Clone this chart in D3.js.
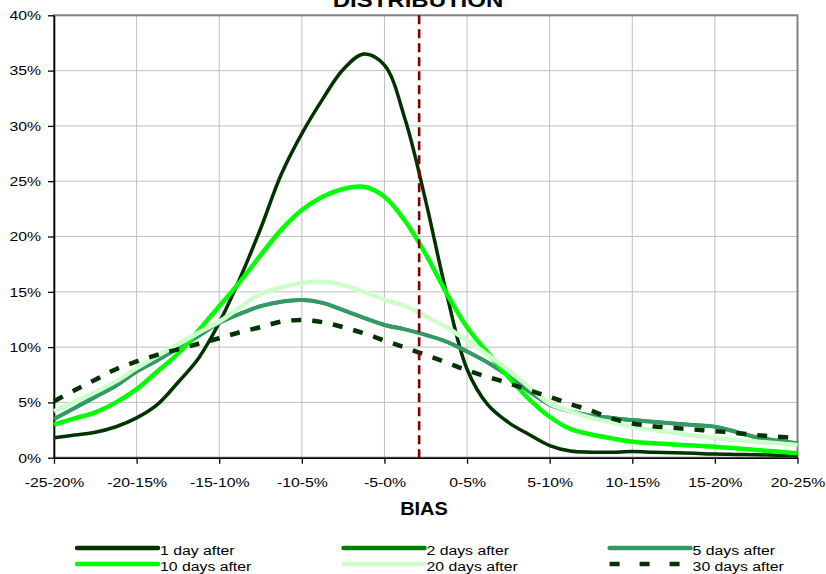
<!DOCTYPE html>
<meta charset="utf-8">
<style>
body { margin: 0; background: #fff; }
text { font-family: "Liberation Sans", Arial, sans-serif; fill: #000; }
.tick text, .legend text { font-size: 13.5px; }
.grid line { stroke: #c0c0c0; stroke-width: 1; }
.series { fill: none; stroke-linejoin: round; }
</style>
<svg width="826" height="574"></svg>
<script src="https://d3js.org/d3.v7.min.js"></script>
<script>

// bins on the x axis and their centres (bias %)
var categories = ["-25-20%", "-20-15%", "-15-10%", "-10-5%", "-5-0%", "0-5%", "5-10%", "10-15%", "15-20%", "20-25%"];
var binCentres = [-22.5, -17.5, -12.5, -7.5, -2.5, 2.5, 7.5, 12.5, 17.5, 22.5];

// points, every 1.25% of bias
var bias = [-22.5, -21.25, -20, -18.75, -17.5, -16.25, -15, -13.75, -12.5, -11.25, -10, -8.75, -7.5, -6.25, -5,
  -3.75, -2.5, -1.25, 0, 1.25, 2.5, 3.75, 5, 6.25, 7.5, 8.75, 10, 11.25, 12.5, 13.75, 15, 16.25, 17.5, 18.75, 20, 21.25, 22.5];

var oneDay = [1.8, 2.05, 2.3, 2.8, 3.6, 4.8, 6.8, 9.0, 12.2, 16.2, 20.7, 25.6, 29.3, 32.4, 35.1, 36.5, 35.5, 30.6, 23.2,
  14.9, 8.0, 4.8, 3.2, 2.1, 1.1, 0.6, 0.5, 0.5, 0.55, 0.5, 0.45, 0.4, 0.33, 0.3, 0.27, 0.23, 0.2];
var twoDays = [3.5, 4.5, 5.5, 6.5, 7.8, 8.8, 9.9, 11.0, 12.2, 13.0, 13.7, 14.1, 14.25, 14.0, 13.35, 12.65, 12.0, 11.6, 11.1,
  10.5, 9.6, 8.6, 7.4, 6.0, 4.8, 4.2, 3.8, 3.6, 3.4, 3.25, 3.1, 2.95, 2.8, 2.35, 1.85, 1.55, 1.3];
var fiveDays = [3.5, 4.5, 5.5, 6.5, 7.8, 8.8, 9.9, 11.0, 12.2, 13.0, 13.7, 14.1, 14.25, 14.0, 13.35, 12.65, 12.0, 11.6, 11.1,
  10.5, 9.6, 8.6, 7.4, 6.0, 4.8, 4.2, 3.8, 3.6, 3.4, 3.25, 3.1, 2.95, 2.8, 2.35, 1.85, 1.55, 1.3];
var tenDays = [3.0, 3.55, 4.1, 5.0, 6.2, 7.8, 9.4, 11.5, 13.7, 15.9, 18.3, 20.6, 22.4, 23.6, 24.3, 24.5, 23.6, 21.4, 18.4,
  14.9, 11.8, 9.5, 7.3, 5.3, 3.7, 2.6, 2.1, 1.75, 1.45, 1.3, 1.2, 1.1, 1.0, 0.85, 0.7, 0.55, 0.4];
var twentyDays = [4.2, 5.05, 5.95, 6.9, 8.1, 9.2, 10.25, 11.3, 12.3, 13.6, 14.8, 15.4, 15.8, 15.9, 15.6, 15.0, 14.3, 13.7, 12.8,
  11.8, 10.6, 9.3, 7.9, 6.4, 4.9, 4.2, 3.6, 3.2, 2.8, 2.5, 2.25, 2.0, 1.75, 1.6, 1.45, 1.3, 1.15];
var thirtyDays = [5.1, 6.1, 7.05, 8.0, 8.7, 9.3, 9.8, 10.3, 10.8, 11.35, 11.8, 12.3, 12.45, 12.25, 11.8, 11.25, 10.6, 9.95, 9.3,
  8.6, 7.9, 7.3, 6.75, 6.1, 5.5, 4.85, 4.25, 3.55, 3.1, 2.85, 2.7, 2.55, 2.4, 2.25, 2.05, 1.9, 1.75];

var yTicks = [0, 5, 10, 15, 20, 25, 30, 35, 40];
var meanBias = -0.4;

var seriesNames = ["1 day after", "2 days after", "5 days after", "10 days after", "20 days after", "30 days after"];
var seriesValues = [oneDay, twoDays, fiveDays, tenDays, twentyDays, thirtyDays];
var colors = ["#003300", "#008000", "#339966", "#00ff00", "#ccffcc", "#003300"];
var widths = [3.5, 3.5, 4, 4.5, 4.5, 4.5];
var dashes = [null, null, null, null, null, "10,11"];

var svg = d3.select("svg"),
    plotLeft = 54, plotRight = 797.5, plotTop = 15.3, plotBottom = 457.7,
    stretch = 1.17;

var x = d3.scaleLinear().domain([-22.5, 22.5]).range([plotLeft, plotRight]);
var y = d3.scaleLinear().domain([0, 40]).range([plotBottom, plotTop]);

// grid
var grid = svg.append("g").attr("class", "grid");
grid.selectAll(".h").data(yTicks).enter().append("line")
    .attr("x1", plotLeft).attr("x2", plotRight)
    .attr("y1", function(d) { return y(d); }).attr("y2", function(d) { return y(d); });
grid.selectAll(".v").data(binCentres).enter().append("line")
    .attr("x1", function(d) { return x(d); }).attr("x2", function(d) { return x(d); })
    .attr("y1", plotTop).attr("y2", plotBottom);

// frame
svg.append("rect")
    .attr("x", plotLeft).attr("y", plotTop)
    .attr("width", plotRight - plotLeft).attr("height", plotBottom - plotTop)
    .attr("fill", "none").attr("stroke", "#808080").attr("stroke-width", 2);

// axes
var xAxis = svg.append("g")
    .attr("transform", "translate(0," + plotBottom + ")")
    .call(d3.axisBottom(x).tickValues(binCentres)
      .tickFormat(function(d, i) { return categories[i]; })
      .tickSize(6).tickSizeOuter(0));
xAxis.selectAll("text")
    .attr("dy", null).attr("y", 29)
    .attr("transform", "scale(" + stretch + ",1)");

var yAxis = svg.append("g")
    .attr("transform", "translate(" + plotLeft + ",0)")
    .call(d3.axisLeft(y).tickValues(yTicks)
      .tickFormat(function(d) { return d + "%"; })
      .tickSize(6).tickSizeOuter(0));
yAxis.selectAll("text")
    .attr("x", -13 / stretch)
    .attr("transform", "scale(" + stretch + ",1)");

svg.selectAll(".domain").attr("stroke", "#000").attr("stroke-width", 1.6);
svg.selectAll(".tick line").attr("stroke", "#000").attr("stroke-width", 1.3);

// curves
var line = d3.line()
    .x(function(d, i) { return x(bias[i]); })
    .y(function(d) { return y(d); })
    .curve(d3.curveCatmullRom.alpha(0.5));

svg.selectAll(".series")
    .data(seriesValues)
  .enter().append("path")
    .attr("class", "series")
    .attr("d", line)
    .attr("stroke", function(d, i) { return colors[i]; })
    .attr("stroke-width", function(d, i) { return widths[i]; })
    .attr("stroke-dasharray", function(d, i) { return dashes[i]; });

// mean bias marker
svg.append("line")
    .attr("x1", x(meanBias)).attr("x2", x(meanBias))
    .attr("y1", plotTop).attr("y2", plotBottom)
    .attr("stroke", "#800000").attr("stroke-width", 2.6)
    .attr("stroke-dasharray", "9,5");

// titles
svg.append("text")
    .attr("x", 418 / 1.2).attr("y", 6.7)
    .attr("transform", "scale(1.2,1)")
    .attr("text-anchor", "middle")
    .style("font-size", "20px").style("font-weight", "bold")
    .text("DISTRIBUTION");

svg.append("text")
    .attr("x", 424 / 1.08).attr("y", 515)
    .attr("transform", "scale(1.08,1)")
    .attr("text-anchor", "middle")
    .style("font-size", "18.5px").style("font-weight", "bold")
    .text("BIAS");

// legend: three columns, two rows
var legendX = [77, 343.5, 609.6],
    legendY = [548, 564];

var legend = svg.append("g").attr("class", "legend")
  .selectAll("g")
    .data(seriesNames)
  .enter().append("g")
    .attr("transform", function(d, i) {
      return "translate(" + legendX[i % 3] + "," + legendY[Math.floor(i / 3)] + ")";
    });

legend.append("line")
    .attr("x1", 0).attr("x2", 81)
    .attr("stroke", function(d, i) { return colors[i]; })
    .attr("stroke-width", 4.5)
    .attr("stroke-linecap", function(d, i) { return dashes[i] ? "butt" : "round"; })
    .attr("stroke-dasharray", function(d, i) { return dashes[i] ? "10,20" : null; });

legend.append("text")
    .attr("x", 83 / stretch).attr("y", 7)
    .attr("transform", "scale(" + stretch + ",1)")
    .text(function(d) { return d; });

</script>
